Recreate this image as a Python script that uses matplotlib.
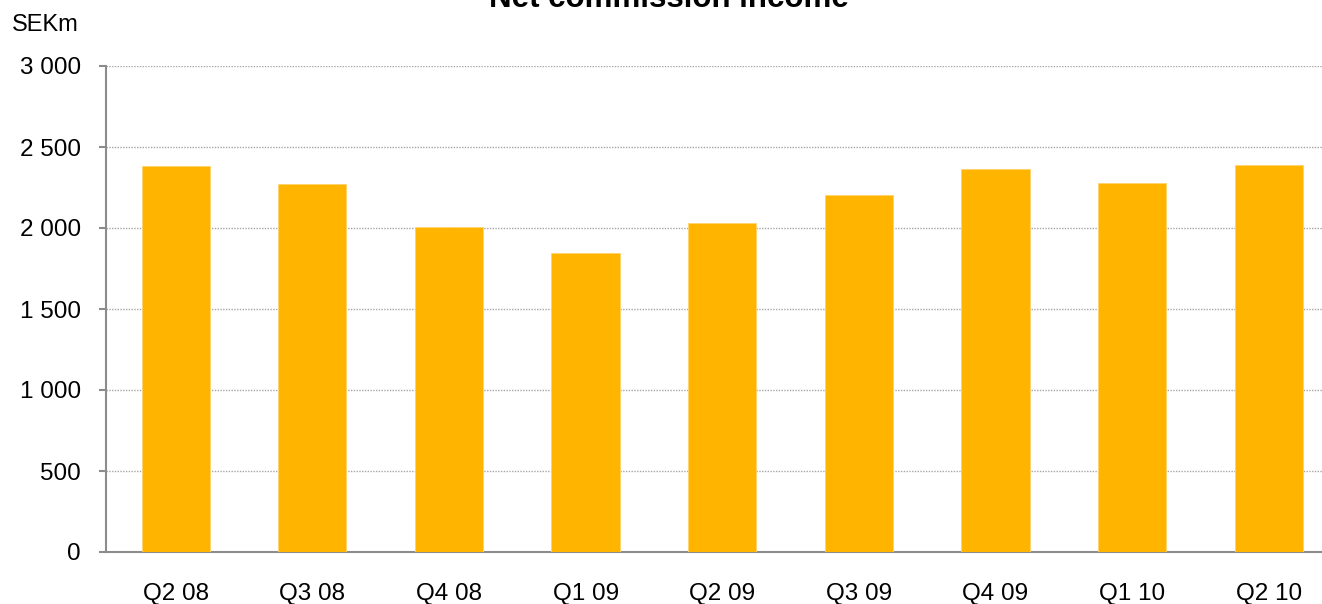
import numpy as np
import matplotlib.pyplot as plt
from matplotlib.ticker import FuncFormatter

plt.rcParams['font.family'] = ['Liberation Sans', 'DejaVu Sans']

# Data
quarters = ['Q2 08', 'Q3 08', 'Q4 08', 'Q1 09', 'Q2 09', 'Q3 09', 'Q4 09', 'Q1 10', 'Q2 10']
income = [2380, 2270, 2005, 1845, 2030, 2205, 2365, 2280, 2390]
yticks = [0, 500, 1000, 1500, 2000, 2500, 3000]

fig = plt.figure(figsize=(13.22, 6.04), dpi=100)
ax = fig.add_axes([106 / 1322, 52 / 604, 1 - 106 / 1322, (552 - 66) / 604])

x = np.arange(len(quarters))
ax.bar(x, income, width=0.5, color='#FFB500', edgecolor='#FFD36B', linewidth=0.6, zorder=3)

ax.set_xlim(-0.51, 8.39)
ax.set_ylim(0, 3000)
ax.set_yticks(yticks)
ax.yaxis.set_major_formatter(FuncFormatter(lambda v, p: f'{int(v):,}'.replace(',', ' ')))
ax.set_xticks(x)
ax.set_xticklabels(quarters)

# dotted gridlines
for v in yticks[1:]:
    ax.axhline(v, color='#A6A6A6', linestyle=(0, (1, 1)), linewidth=1.0, zorder=1)

for s in ['top', 'right']:
    ax.spines[s].set_visible(False)
for s in ['left', 'bottom']:
    ax.spines[s].set_color('#8C8C8C')
    ax.spines[s].set_linewidth(1.5)

ax.tick_params(axis='y', length=5, width=1.5, color='#8C8C8C', labelsize=17.5, pad=13)
ax.tick_params(axis='x', length=0, labelsize=17.5, pad=22)

fig.text(12 / 1322, 1 - 31 / 604, 'SEKm', fontsize=17, va='baseline', ha='left')
fig.text(0.5057, 1 - 7 / 604, 'Net commission income', fontsize=22.5, fontweight='bold',
         ha='center', va='baseline')

fig.savefig('out.png', dpi=100)
